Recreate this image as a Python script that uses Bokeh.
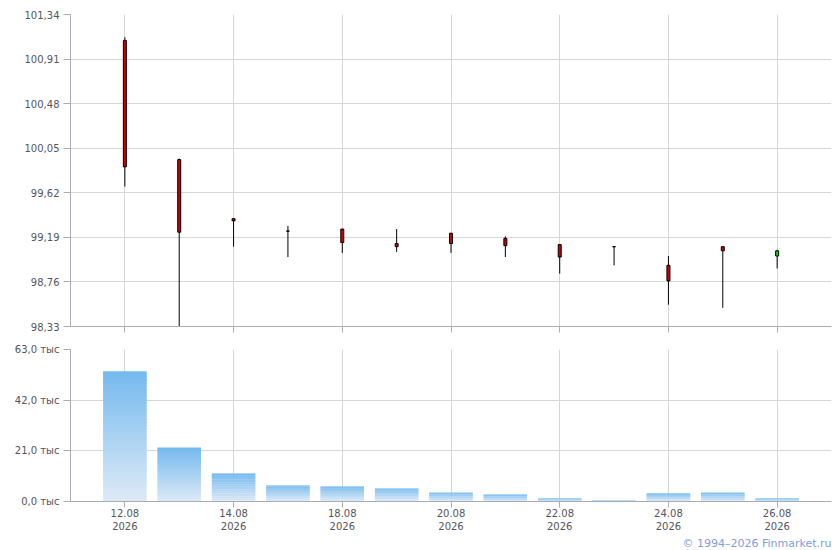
from bokeh.plotting import figure
from bokeh.layouts import column
from bokeh.models import Range1d, FixedTicker, CustomJSTickFormatter, Title, ColumnDataSource
from bokeh.embed import file_html
from bokeh.resources import INLINE

# ---- data ----
dates = ["12.08", "13.08", "14.08", "17.08", "18.08", "19.08", "20.08",
         "21.08", "22.08", "23.08", "24.08", "25.08", "26.08"]
year = "2026"
open_ = [101.09, 99.94, 99.37, 99.25, 99.27, 99.13, 99.23, 99.18, 99.12, 99.10, 98.92, 99.10, 99.01]
high = [101.12, 99.95, 99.37, 99.30, 99.27, 99.27, 99.23, 99.20, 99.12, 99.10, 99.01, 99.10, 99.07]
low = [99.68, 98.33, 99.10, 99.00, 99.04, 99.05, 99.04, 99.00, 98.84, 98.92, 98.54, 98.51, 98.89]
close = [99.87, 99.24, 99.35, 99.25, 99.14, 99.10, 99.13, 99.11, 99.00, 99.10, 98.77, 99.06, 99.06]
volume = [54000, 22400, 11600, 6600, 6200, 5400, 3700, 2900, 1300, 400, 3300, 3700, 1300]
price_ticks = [98.33, 98.76, 99.19, 99.62, 100.05, 100.48, 100.91, 101.34]
volume_ticks = [0, 21000, 42000, 63000]
date_ticks = [0, 2, 4, 6, 8, 10, 12]

FONT = "DejaVu Sans"
LBL = "#555560"
AXIS = "#a9abb5"
GRID = "#d3d7db"

idx = list(range(len(dates)))
x_range = Range1d(-1, 13)


def style(p):
    p.outline_line_color = None
    p.background_fill_color = "white"
    p.border_fill_color = "white"
    for ax in (p.xaxis[0], p.yaxis[0]):
        ax.axis_line_color = AXIS
        ax.major_tick_line_color = AXIS
        ax.minor_tick_line_color = None
        ax.major_tick_in = 0
        ax.major_label_text_font = FONT
        ax.major_label_text_font_size = "10px"
        ax.major_label_text_color = LBL
    p.xaxis.major_tick_out = 6
    p.yaxis.major_tick_out = 7
    p.yaxis.major_label_standoff = 4
    p.xgrid.grid_line_color = GRID
    p.ygrid.grid_line_color = GRID
    p.xaxis.ticker = FixedTicker(ticks=date_ticks)


# ---- price chart ----
p = figure(x_range=x_range, y_range=Range1d(price_ticks[0], price_ticks[-1]),
           frame_width=761, frame_height=312, min_border_left=70, min_border_right=9,
           min_border_top=14, min_border_bottom=12,
           output_backend="svg", toolbar_location=None)
style(p)
p.yaxis.ticker = FixedTicker(ticks=price_ticks)
p.yaxis.formatter = CustomJSTickFormatter(code="return tick.toFixed(2).replace('.', ',');")
p.xaxis.formatter = CustomJSTickFormatter(code="return '';")
p.xaxis.major_label_standoff = 0

colors = ["#00dd00" if c > o else "#cc0000" for o, c in zip(open_, close)]
src = ColumnDataSource(dict(x=idx, open=open_, close=close, high=high, low=low, color=colors))
p.segment(x0="x", y0="low", x1="x", y1="high", source=src, line_color="black", line_width=1)
p.vbar(x="x", width=0.055, top="open", bottom="close", source=src,
       fill_color="color", line_color="black", line_width=1)

# ---- volume chart ----
v = figure(x_range=x_range, y_range=Range1d(volume_ticks[0], volume_ticks[-1]),
           frame_width=761, frame_height=152, min_border_left=70, min_border_right=9,
           min_border_top=11, min_border_bottom=2,
           output_backend="svg", toolbar_location=None)
style(v)
v.yaxis.ticker = FixedTicker(ticks=volume_ticks)
v.yaxis.formatter = CustomJSTickFormatter(
    code="return (tick/1000).toFixed(1).replace('.', ',') + ' тыс';")
v.xaxis.formatter = CustomJSTickFormatter(
    args=dict(labels=dates, year=year),
    code="const i = Math.round(tick); return labels[i] + '\\n' + year;")
v.xaxis.major_label_standoff = 0

# vertical gradient in each bar, built from the bar's own value
top_c = (0x74, 0xb9, 0xef)
bot_c = (0xde, 0xea, 0xf6)
N = 40
xs, tops, bots, cols = [], [], [], []
for i, val in zip(idx, volume):
    for k in range(N):
        t = (k + 0.5) / N
        rgb = tuple(int(round(b + (a - b) * t)) for a, b in zip(top_c, bot_c))
        xs.append(i)
        bots.append(val * k / N)
        tops.append(val * min(k + 1.6, N) / N)
        cols.append("#%02x%02x%02x" % rgb)
v.vbar(x=xs, width=0.8, top=tops, bottom=bots, fill_color=cols, line_color=None)

v.add_layout(Title(text="© 1994–2026 Finmarket.ru", align="right", text_font=FONT,
                   text_font_size="11px", text_font_style="normal", text_color="#7f9de0",
                   standoff=0), "below")

layout = column(p, v, spacing=0)
open("out.html", "w").write(file_html(layout, INLINE))
